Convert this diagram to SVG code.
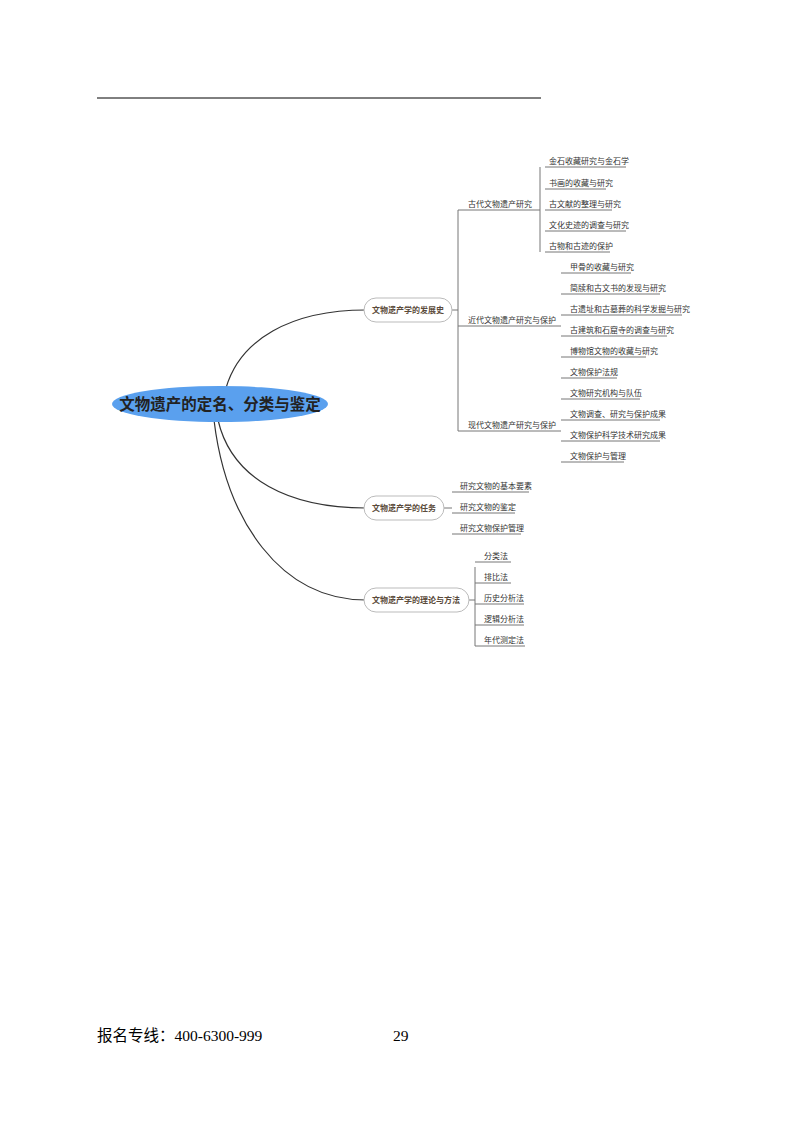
<svg xmlns="http://www.w3.org/2000/svg" width="800" height="1124" viewBox="0 0 800 1124">
<style>
.t{font-family:"Noto Sans CJK SC",sans-serif;font-size:8px;fill:#333}
.b{font-family:"Noto Sans CJK SC",sans-serif;font-size:8px;font-weight:bold;fill:#5a4a3a}
.l{stroke:#777;stroke-width:1;fill:none}
.c{stroke:#333;stroke-width:1.2;fill:none}
.p{fill:#fff;stroke:#bbb;stroke-width:1}
</style>
<rect width="800" height="1124" fill="#fff"/>
<line x1="97" y1="98" x2="541" y2="98" stroke="#000" stroke-width="1"/>
<g id="connectors">
<path class="c" d="M226,388 C240,340 290,310 366,310"/>
<path class="c" d="M218,420 C232,480 290,508 366,508"/>
<path class="c" d="M214,420 C226,520 280,600 366,600"/>
<path class="l" d="M450,310 H458 M458,210 V431 M458,210 H540 M458,326 H561 M458,431 H561"/>
<path class="l" d="M540,167 V252"/>
<path class="l" d="M545,167H626 M545,189H606 M545,210H612 M545,231H626 M545,252H610"/>
<path class="l" d="M561,273H631 M561,294H660 M561,315H682 M561,336H667 M561,357H646 M561,378H617 M561,399H640 M561,420H660 M561,441H660 M561,462H624"/>
<path class="l" d="M442,508 H452 M452,492H529 M452,513H515 M452,534H521"/>
<path class="l" d="M467,600 H475 M475,567 V646 M475,562H511 M475,583H511 M475,604H524 M475,625H524 M475,646H525"/>
</g>
<g id="root"><ellipse cx="220" cy="404" rx="108" ry="18" fill="#5aa0ee"/>
<text x="220" y="410" text-anchor="middle" font-family="Noto Sans CJK SC,sans-serif" font-size="15.5" font-weight="bold" fill="#222">文物遗产的定名、分类与鉴定</text></g>
<g id="n1"><rect class="p" x="364" y="298" width="88" height="24" rx="12"/><text class="b" x="408" y="313" text-anchor="middle">文物遗产学的发展史</text></g>
<g id="n2"><rect class="p" x="364" y="496" width="80" height="24" rx="12"/><text class="b" x="404" y="511" text-anchor="middle">文物遗产学的任务</text></g>
<g id="n3"><rect class="p" x="364" y="588" width="105" height="24" rx="12"/><text class="b" x="416" y="603" text-anchor="middle">文物遗产学的理论与方法</text></g>
<g id="sub">
<text class="t" x="468" y="207">古代文物遗产研究</text>
<text class="t" x="468" y="323">近代文物遗产研究与保护</text>
<text class="t" x="468" y="428">现代文物遗产研究与保护</text>
</g>
<g id="leaves">
<text class="t" x="549" y="164">金石收藏研究与金石学</text>
<text class="t" x="549" y="186">书画的收藏与研究</text>
<text class="t" x="549" y="207">古文献的整理与研究</text>
<text class="t" x="549" y="228">文化史迹的调查与研究</text>
<text class="t" x="549" y="249">古物和古迹的保护</text>
<text class="t" x="570" y="270">甲骨的收藏与研究</text>
<text class="t" x="570" y="291">简牍和古文书的发现与研究</text>
<text class="t" x="570" y="312">古遗址和古墓葬的科学发掘与研究</text>
<text class="t" x="570" y="333">古建筑和石窟寺的调查与研究</text>
<text class="t" x="570" y="354">博物馆文物的收藏与研究</text>
<text class="t" x="570" y="375">文物保护法规</text>
<text class="t" x="570" y="396">文物研究机构与队伍</text>
<text class="t" x="570" y="417">文物调查、研究与保护成果</text>
<text class="t" x="570" y="438">文物保护科学技术研究成果</text>
<text class="t" x="570" y="459">文物保护与管理</text>
<text class="t" x="460" y="489">研究文物的基本要素</text>
<text class="t" x="460" y="510">研究文物的鉴定</text>
<text class="t" x="460" y="531">研究文物保护管理</text>
<text class="t" x="484" y="559">分类法</text>
<text class="t" x="484" y="580">排比法</text>
<text class="t" x="484" y="601">历史分析法</text>
<text class="t" x="484" y="622">逻辑分析法</text>
<text class="t" x="484" y="643">年代测定法</text>
</g>
<text x="97" y="1041" font-family="Liberation Serif,Noto Sans CJK SC,serif" font-size="15.5">报名专线：400-6300-999</text>
<text x="393" y="1041" font-family="Liberation Serif,serif" font-size="15.5">29</text>
</svg>
